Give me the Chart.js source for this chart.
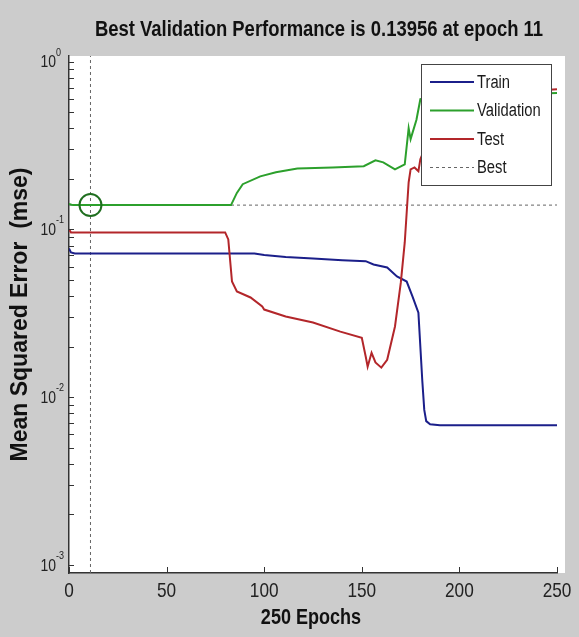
<!DOCTYPE html>
<html>
<head>
<meta charset="utf-8">
<title>Best Validation Performance</title>
<script src="https://cdn.jsdelivr.net/npm/chart.js@4.4.1/dist/chart.umd.min.js"></script>
<style>
  html, body { margin: 0; padding: 0; background: #cccccc; }
  #wrap { width: 579px; height: 637px; }
</style>
</head>
<body>
<div id="wrap"><canvas id="perfChart" width="579" height="637"></canvas></div>
<script>
// datos (epoch, mse)
const trainEpochs = [0, 1, 3, 95, 100, 111, 125, 140, 152, 156, 163, 168, 173, 176, 179, 181, 182, 183, 185, 190, 250];
const trainMse = [0.077, 0.073, 0.0719, 0.0719, 0.0703, 0.0684, 0.0671, 0.0655, 0.0647, 0.0618, 0.0593, 0.0524, 0.0489, 0.0398, 0.0319, 0.0125, 0.0084, 0.0072, 0.0069, 0.0068, 0.0068];

const valEpochs = [0, 2, 83, 86, 89, 98, 106, 117, 135, 151, 157, 161, 167, 172, 174, 175, 178, 180, 190, 210, 230, 250];
const valMse = [0.142, 0.1396, 0.1396, 0.165, 0.186, 0.207, 0.219, 0.231, 0.234, 0.238, 0.258, 0.251, 0.228, 0.244, 0.401, 0.345, 0.45, 0.597, 0.62, 0.63, 0.64, 0.65];

const testEpochs = [0, 1, 80, 81.6, 83.5, 86, 93, 99, 100, 111, 125, 139, 150, 152, 153, 155, 157, 160, 163, 167, 170, 172, 174, 175, 177, 179, 180, 190, 220, 250];
const testMse = [0.1, 0.096, 0.096, 0.0871, 0.0489, 0.0427, 0.0393, 0.0347, 0.0333, 0.0303, 0.0279, 0.0246, 0.0226, 0.0175, 0.0152, 0.0184, 0.0161, 0.015, 0.0167, 0.0264, 0.0483, 0.0836, 0.191, 0.228, 0.234, 0.222, 0.262, 0.5, 0.65, 0.685];

const bestEpoch = 11;
const bestMse = 0.13956;

const xTicks = [0, 50, 100, 150, 200, 250];
const xTickLabels = ['0', '50', '100', '150', '200', '250'];
const yMajorTicks = [0.001, 0.01, 0.1, 1];
const yTickExponents = ['-3', '-2', '-1', '0'];

const titleText = 'Best Validation Performance is 0.13956 at epoch 11';
const xTitleText = '250 Epochs';

const fontWide = "'Liberation Sans', Arial, sans-serif";

const yMin = 0.000896;
const yMax = 1.08;

// marcas menores 1..9 por década
const yMinorTicks = [];
yMajorTicks.slice(0, 3).forEach(d => {
    for (let m = 1; m <= 9; m++) yMinorTicks.push(d * m);
});
yMinorTicks.push(1);

function pts(xs, ys) {
    return xs.map((x, i) => ({ x: x, y: ys[i] }));
}

// texto estrecho tipo Arial Narrow (escala horizontal)
function narrowText(ctx, text, x, y, size, weight, align) {
    ctx.save();
    ctx.font = weight + ' ' + size + 'px ' + fontWide;
    ctx.textAlign = align;
    ctx.textBaseline = 'middle';
    ctx.translate(x, y);
    ctx.scale(0.82, 1);
    ctx.fillText(text, 0, 0);
    ctx.restore();
}

const colTrain = '#1b1f8a';
const colVal = '#2ca02c';
const colTest = '#b3262a';
const colBest = '#666666';

// fondo blanco del área de trazado
const plotBg = {
    id: 'plotBg',
    beforeDraw(chart) {
        const a = chart.chartArea;
        const ctx = chart.ctx;
        ctx.save();
        ctx.fillStyle = '#ffffff';
        ctx.fillRect(a.left, a.top, a.right - a.left + 8, a.bottom - a.top);
        ctx.restore();
    }
};

// marcas hacia dentro, etiquetas 10^n y títulos
const axisDecor = {
    id: 'axisDecor',
    afterDraw(chart) {
        const ctx = chart.ctx;
        const a = chart.chartArea;
        const ys = chart.scales.y;
        const xs = chart.scales.x;
        ctx.save();
        ctx.strokeStyle = '#333333';
        ctx.lineWidth = 1;
        yMinorTicks.forEach(v => {
            const py = Math.round(ys.getPixelForValue(v)) + 0.5;
            ctx.beginPath();
            ctx.moveTo(a.left, py);
            ctx.lineTo(a.left + 5, py);
            ctx.stroke();
        });
        xTicks.forEach(v => {
            const px = Math.round(xs.getPixelForValue(v)) + 0.5;
            ctx.beginPath();
            ctx.moveTo(px, a.bottom);
            ctx.lineTo(px, a.bottom - 6);
            ctx.stroke();
        });
        ctx.fillStyle = '#222222';
        yMajorTicks.forEach((v, i) => {
            const py = ys.getPixelForValue(v);
            narrowText(ctx, '10', a.left - 13, py + 1, 17, 'normal', 'right');
            narrowText(ctx, yTickExponents[i], a.left - 13, py - 9, 11, 'normal', 'left');
        });
        xTicks.forEach((v, i) => {
            const px = xs.getPixelForValue(v);
            narrowText(ctx, xTickLabels[i], px, a.bottom + 18, 21, 'normal', 'center');
        });
        ctx.fillStyle = '#111111';
        const cx = (a.left + a.right) / 2;
        narrowText(ctx, titleText, cx + 6, 30, 22.5, 'bold', 'center');
        narrowText(ctx, xTitleText, cx - 2, 618, 22, 'bold', 'center');
        ctx.restore();
    }
};

// leyenda dentro del área, arriba a la derecha
const boxLegend = {
    id: 'boxLegend',
    afterDraw(chart) {
        const ctx = chart.ctx;
        const a = chart.chartArea;
        const w = 130, h = 121;
        const left = a.right - 6 - w;
        const top = a.top + 8;
        ctx.save();
        ctx.fillStyle = '#ffffff';
        ctx.fillRect(left, top, w, h);
        ctx.strokeStyle = '#444444';
        ctx.lineWidth = 1;
        ctx.strokeRect(left + 0.5, top + 0.5, w, h);
        const items = chart.data.datasets.filter(d => d.inLegend);
        items.forEach((d, i) => {
            const y = top + 18 + i * 28.5;
            ctx.strokeStyle = d.borderColor;
            ctx.lineWidth = d.borderWidth;
            ctx.setLineDash(d.borderDash || []);
            ctx.beginPath();
            ctx.moveTo(left + 9, y);
            ctx.lineTo(left + 53, y);
            ctx.stroke();
            ctx.setLineDash([]);
            ctx.fillStyle = '#1a1a1a';
            narrowText(ctx, d.label, left + 56, y + 1, 18, 'normal', 'left');
        });
        ctx.restore();
    }
};

const ctx = document.getElementById('perfChart').getContext('2d');

new Chart(ctx, {
    type: 'line',
    data: {
        datasets: [
            {
                label: 'Best point',
                data: [{ x: bestEpoch, y: bestMse }],
                showLine: false,
                pointRadius: 11,
                pointBorderWidth: 2,
                pointBorderColor: '#1f6e1f',
                pointBackgroundColor: 'rgba(0,0,0,0)',
                order: 0
            },
            {
                label: 'Train',
                inLegend: true,
                data: pts(trainEpochs, trainMse),
                borderColor: colTrain,
                borderWidth: 2,
                pointRadius: 0,
                order: 2
            },
            {
                label: 'Validation',
                inLegend: true,
                data: pts(valEpochs, valMse),
                borderColor: colVal,
                borderWidth: 2,
                pointRadius: 0,
                order: 3
            },
            {
                label: 'Test',
                inLegend: true,
                data: pts(testEpochs, testMse),
                borderColor: colTest,
                borderWidth: 2,
                pointRadius: 0,
                order: 1
            },
            {
                label: 'Best',
                inLegend: true,
                data: [{ x: 0, y: bestMse }, { x: 250, y: bestMse }],
                borderColor: colBest,
                borderWidth: 1,
                borderDash: [3, 3],
                pointRadius: 0,
                order: 4
            },
            {
                label: 'Best epoch',
                data: [{ x: bestEpoch, y: yMin }, { x: bestEpoch, y: yMax }],
                borderColor: colBest,
                borderWidth: 1,
                borderDash: [3, 3],
                pointRadius: 0,
                order: 4
            }
        ]
    },
    options: {
        responsive: false,
        animation: false,
        layout: { padding: { left: 0, right: 22, top: 56, bottom: 0 } },
        plugins: {
            legend: { display: false },
            tooltip: { enabled: false },
            title: { display: false }
        },
        scales: {
            x: {
                type: 'linear',
                min: 0,
                max: 250,
                grid: { display: false, drawTicks: false },
                border: { display: true, color: '#333333', width: 1.5 },
                ticks: { display: false },
                afterFit: function (scale) { scale.height = 64; }
            },
            y: {
                type: 'logarithmic',
                min: yMin,
                max: yMax,
                grid: { display: false, drawTicks: false },
                border: { display: true, color: '#333333', width: 1.5 },
                ticks: { display: false },
                afterFit: function (scale) { scale.width = 69; },
                title: {
                    display: true,
                    text: 'Mean Squared Error  (mse)',
                    color: '#111111',
                    font: { family: fontWide, size: 23, weight: 'bold' },
                    padding: { top: 7, bottom: 0 }
                }
            }
        }
    },
    plugins: [plotBg, axisDecor, boxLegend]
});
</script>
</body>
</html>
